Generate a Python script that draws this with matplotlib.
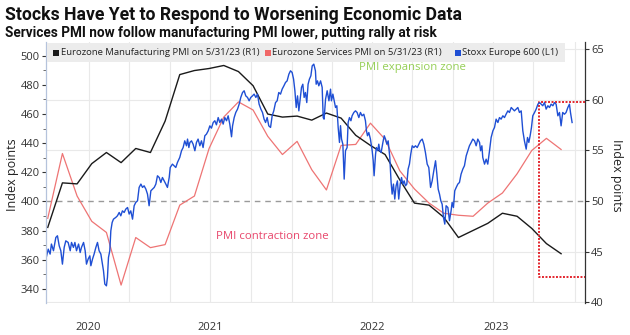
import numpy as np
import matplotlib
matplotlib.use('Agg')
import matplotlib.pyplot as plt
from matplotlib.patches import Rectangle
from matplotlib.ticker import MultipleLocator

# ---------------- data ----------------
months = ['Jun 2020', 'Jul 2020', 'Aug 2020', 'Sep 2020', 'Oct 2020', 'Nov 2020', 'Dec 2020',
          'Jan 2021', 'Feb 2021', 'Mar 2021', 'Apr 2021', 'May 2021', 'Jun 2021', 'Jul 2021',
          'Aug 2021', 'Sep 2021', 'Oct 2021', 'Nov 2021', 'Dec 2021', 'Jan 2022', 'Feb 2022',
          'Mar 2022', 'Apr 2022', 'May 2022', 'Jun 2022', 'Jul 2022', 'Aug 2022', 'Sep 2022',
          'Oct 2022', 'Nov 2022', 'Dec 2022', 'Jan 2023', 'Feb 2023', 'Mar 2023', 'Apr 2023',
          'May 2023']
mfg_pmi = [47.4, 51.8, 51.7, 53.7, 54.8, 53.8, 55.2, 54.8, 57.9, 62.5, 62.9, 63.1, 63.4, 62.8,
           61.4, 58.6, 58.3, 58.4, 58.0, 58.7, 58.2, 56.5, 55.5, 54.6, 52.1, 49.8, 49.6, 48.4,
           46.4, 47.1, 47.8, 48.8, 48.5, 47.3, 45.8, 44.8]
services_pmi = [48.3, 54.7, 50.5, 48.0, 46.9, 41.7, 46.4, 45.4, 45.7, 49.6, 50.5, 55.2, 58.3, 59.8,
                59.0, 56.4, 54.6, 55.9, 53.1, 51.1, 55.5, 55.6, 57.7, 56.1, 53.0, 51.2, 49.8, 48.8,
                48.6, 48.5, 49.8, 50.8, 52.7, 55.0, 56.2, 55.1]

# Stoxx Europe 600: time in months after end of Jun 2020, value in index points
stoxx_t = [-0.13, 0.03, 0.16, 0.25, 0.39, 0.55, 0.66, 0.78, 0.89, 1.00, 1.12, 1.23, 1.39, 1.53,
           1.62, 1.75, 1.85, 1.96, 2.10, 2.21, 2.30, 2.44, 2.55, 2.64, 2.75, 2.87, 2.94, 3.05,
           3.16, 3.28, 3.39, 3.50, 3.62, 3.73, 3.80, 3.89, 4.00, 4.07, 4.14, 4.23, 4.30, 4.39,
           4.48, 4.64, 4.75, 4.87, 4.98, 5.09, 5.21, 5.32, 5.44, 5.55, 5.66, 5.78, 5.89, 6.00,
           6.12, 6.23, 6.35, 6.46, 6.57, 6.69, 6.80, 6.91, 7.03, 7.14, 7.26, 7.37, 7.48, 7.60,
           7.71, 7.82, 7.94, 8.05, 8.16, 8.28, 8.35, 8.50, 8.62, 8.73, 8.84,
           9.00, 9.12, 9.23, 9.34, 9.46, 9.53, 9.62, 9.69, 9.80, 9.91, 10.03, 10.14, 10.25, 10.37,
           10.48, 10.59, 10.71, 10.82, 10.94, 11.05, 11.16, 11.28, 11.39, 11.50, 11.62, 11.73,
           11.85, 11.96, 12.07, 12.19, 12.30, 12.41, 12.53, 12.60, 12.71, 12.82, 12.94, 13.05,
           13.16, 13.28, 13.39, 13.50, 13.62, 13.73, 13.84, 13.96, 14.07, 14.19, 14.30, 14.41,
           14.53, 14.64, 14.75, 14.85, 14.96, 15.07, 15.19, 15.30, 15.41, 15.53, 15.64, 15.75,
           15.87, 15.98, 16.10, 16.21, 16.32, 16.44, 16.55, 16.66, 16.76, 16.85, 16.94, 17.03,
           17.12, 17.21, 17.30, 17.39, 17.48, 17.57, 17.66, 17.75, 17.84, 17.94,
           18.03, 18.14, 18.25, 18.30, 18.39, 18.48, 18.60, 18.71, 18.78, 18.84, 18.94, 19.05,
           19.17, 19.28, 19.34, 19.44, 19.53, 19.62, 19.71, 19.80, 19.89, 19.96, 20.03, 20.12,
           20.21, 20.30, 20.41, 20.48, 20.57, 20.67, 20.75, 20.87, 20.98, 21.09, 21.21, 21.32,
           21.43, 21.55, 21.66, 21.73, 21.80, 21.89, 22.00, 22.12, 22.19, 22.25, 22.35, 22.41,
           22.50, 22.57, 22.64, 22.73, 22.85, 22.94, 23.03, 23.12, 23.21, 23.32, 23.41, 23.48,
           23.57, 23.66, 23.75, 23.84, 23.93, 24.03, 24.12, 24.21, 24.30, 24.39, 24.48, 24.57,
           24.66, 24.75, 24.85, 24.96, 25.07, 25.19, 25.30, 25.41, 25.53, 25.64, 25.75, 25.87,
           25.98, 26.10, 26.21, 26.32, 26.44, 26.53, 26.62, 26.71, 26.80, 26.89, 26.98, 27.07,
           27.16, 27.28, 27.39, 27.50, 27.57, 27.66, 27.75, 27.85, 27.96, 28.07, 28.18, 28.30,
           28.41, 28.53, 28.64, 28.75, 28.87, 28.98, 29.10, 29.21, 29.32, 29.44, 29.51, 29.60,
           29.66, 29.78, 29.89, 30.00, 30.12, 30.23, 30.35, 30.46, 30.57, 30.69, 30.80, 30.91,
           31.03, 31.14, 31.25, 31.37, 31.48, 31.60, 31.71, 31.82, 31.94, 32.05, 32.16, 32.28,
           32.39, 32.50, 32.62, 32.71, 32.80, 32.89, 32.98, 33.07, 33.19, 33.30, 33.42, 33.53,
           33.64, 33.75, 33.87, 33.98, 34.10, 34.21, 34.32, 34.44, 34.55, 34.66, 34.78, 34.89,
           35.00, 35.11, 35.23, 35.34, 35.46, 35.57, 35.64, 35.75]
stoxx_v = [360.3, 367.2, 363.8, 370.7, 366.1, 375.2, 376.4, 369.5, 366.1, 356.9, 368.4, 372.9,
           371.8, 366.1, 371.8, 368.4, 371.8, 366.1, 370.7, 364.9, 368.4, 371.8, 366.1, 356.9,
           360.3, 362.6, 355.8, 360.3, 363.8, 368.4, 371.8, 366.1, 363.8, 356.9, 352.3, 343.2,
           342.0, 347.8, 361.5, 366.1, 379.8, 385.5, 387.8, 389.0, 390.1, 392.4, 390.1, 393.5,
           392.4, 394.7, 395.8, 391.3, 393.5, 387.8, 397.0, 399.3, 400.4, 409.6, 411.9, 409.6,
           410.7, 408.4, 405.0, 397.0, 407.3, 408.4, 409.6, 411.9, 417.6, 416.4, 413.0, 416.4,
           414.1, 411.9, 409.6, 416.4, 423.3, 425.6, 424.4, 423.3, 426.7,
           430.2, 434.8, 437.0, 441.6, 438.2, 442.8, 437.0, 440.5, 441.6, 439.3, 434.8, 440.5,
           442.8, 438.2, 441.6, 437.0, 445.1, 446.2, 448.5, 451.9, 450.3, 454.2, 455.4, 452.6,
           457.6, 454.2, 456.5, 453.1, 457.6, 455.4, 458.8, 453.1, 444.4, 451.9, 457.6, 461.1,
           463.4, 466.8, 471.4, 474.8, 476.0, 472.5, 471.4, 469.1, 471.4, 472.5, 473.7, 471.4,
           473.7, 466.8, 463.4, 461.1, 456.5, 454.2, 457.6, 451.9, 450.8, 458.8, 462.2, 467.9,
           469.1, 474.8, 473.7, 477.1, 479.4, 481.7, 482.8, 487.4, 489.7, 488.6, 484.0, 476.0,
           464.5, 472.5, 462.2, 470.2, 478.3, 480.5, 471.4, 474.8, 467.9, 480.5, 484.0, 486.3,
           493.1, 494.3, 489.7, 480.5, 482.8, 479.4, 482.8, 478.3, 457.6, 456.5, 470.2, 476.0,
           469.1, 477.1, 469.1, 473.7, 469.1, 464.5, 465.7, 450.8, 440.5, 452.0, 442.8, 439.3,
           415.3, 434.8, 437.0, 454.2, 457.6, 455.4, 458.8, 461.1, 462.2, 461.1, 457.6, 461.1,
           458.8, 459.9, 455.4, 448.5, 445.1, 447.3, 442.8, 434.8, 427.9, 417.6, 432.5, 437.0,
           434.8, 439.3, 434.8, 433.6, 440.5, 445.1, 442.8, 439.3, 441.6, 430.2, 413.0, 405.0,
           411.9, 401.6, 410.7, 414.1, 401.6, 411.9, 416.4, 411.9, 414.1, 410.7, 411.9, 422.2,
           425.6, 432.5, 438.2, 437.0, 438.2, 437.0, 439.3, 441.6, 442.8, 439.3, 433.6, 425.6,
           423.3, 409.6, 414.1, 421.0, 427.9, 418.7, 408.4, 405.0, 400.4, 398.1, 389.0, 384.4,
           397.0, 395.8, 386.7, 393.5, 399.3, 395.8, 407.3, 409.6, 411.9, 413.0, 418.7, 422.2,
           424.5, 431.3, 434.8, 438.2, 440.5, 442.8, 441.6, 438.2, 442.8, 440.5, 434.8, 438.2,
           430.2, 425.6, 429.0, 425.6, 434.8, 443.9, 448.5, 450.8, 456.5, 454.2, 457.6, 456.5,
           458.8, 457.6, 459.9, 462.2, 461.1, 464.5, 463.4, 462.2, 463.4, 464.5, 461.1, 462.2,
           448.5, 441.6, 435.9, 443.9, 440.5, 445.1, 450.8, 458.8, 461.1, 463.4, 466.8, 467.9,
           466.8, 465.7, 467.9, 463.4, 465.7, 464.5, 466.8, 465.7, 467.9, 466.8, 458.8, 461.1,
           451.9, 461.1, 459.9, 461.1, 464.5, 466.8, 461.1, 454.2]

year_ticks = [2.75, 11.07, 22.1, 30.55]
year_labels = ['2020', '2021', '2022', '2023']
grid_x = [2.82, 5.57, 8.32, 11.07, 13.85, 16.63, 19.38, 22.11, 24.84, 27.6, 30.36, 33.09, 35.95]
pmi_ticks = [40, 45, 50, 55, 60, 65]
stoxx_ticks = [340, 360, 380, 400, 420, 440, 460, 480, 500]
pmi_neutral = 50
highlight_start = 33.46
highlight_top = 59.75
highlight_bottom = 42.49

legend_labels = ['Eurozone Manufacturing PMI on 5/31/23 (R1)',
                 'Eurozone Services PMI on 5/31/23 (R1)',
                 'Stoxx Europe 600 (L1)']

# ---------------- style ----------------
C_MFG = '#1a1a1a'
C_SRV = '#ee7474'
C_STX = '#1f4fd4'
C_HL = '#e3262e'
TXT = ['Open Sans', 'DejaVu Sans']
TITLE_FONT = ['Roboto', 'DejaVu Sans']

W, H = 630, 335
fig = plt.figure(figsize=(6.3, 3.35), dpi=100)
fig.patch.set_facecolor('white')


def fx(px):
    return px / W


def fy(py):
    return 1 - py / H


ax = fig.add_axes([fx(46), fy(303), fx(585) - fx(46), fy(42) - fy(303)])
ax2 = ax.twinx()

ax.set_xlim(-0.12, 36.63)
ax.set_ylim(39.93, 65.72)

# grid
for gx in grid_x:
    ax.axvline(gx, color='#e9e9e9', lw=0.8, zorder=0)
for t in pmi_ticks:
    if t != pmi_neutral:
        ax.axhline(t, color='#e9e9e9', lw=0.8, zorder=0)
ax.axhline(pmi_neutral, color='#9a9a9a', lw=1.0, ls=(0, (4, 3.5)), zorder=1)

x_pmi = np.arange(len(months))
ax.plot(x_pmi, services_pmi, color=C_SRV, lw=0.9, zorder=3)
ax.plot(x_pmi, mfg_pmi, color=C_MFG, lw=1.0, zorder=3)

# highlight box
xr = ax.get_xlim()[1]
ax.plot([xr, highlight_start, highlight_start, xr],
        [highlight_top, highlight_top, highlight_bottom, highlight_bottom],
        color=C_HL, lw=1.4, ls=(0, (1, 0.8)), zorder=4, clip_on=False)

ax.text(24.84, 63.2, 'PMI expansion zone', color='#95cf55', fontsize=8.2,
        ha='center', va='center', family=TXT)
ax.text(15.33, 46.54, 'PMI contraction zone', color='#e8476c', fontsize=8.2,
        ha='center', va='center', family=TXT)

for s in ['top', 'left', 'bottom', 'right']:
    ax.spines[s].set_visible(False)
ax.set_xticks(year_ticks)
ax.set_xticklabels(year_labels)
ax.tick_params(axis='x', length=0, pad=14, labelsize=8, labelcolor='#333333')
ax.set_yticks([])

# ---- stoxx series (left scale) ----
ax2.set_ylim(330.2, 509.5)
ax2.plot(stoxx_t, stoxx_v, color=C_STX, lw=1.0, zorder=3)
for s in ['top', 'right', 'bottom', 'left']:
    ax2.spines[s].set_visible(False)
ax2.set_yticks([])

# right (PMI) axis
axr = ax.twinx()
axr.set_ylim(ax.get_ylim())
axr.patch.set_visible(False)
for s in ['top', 'left', 'bottom']:
    axr.spines[s].set_visible(False)
axr.spines['right'].set_color('#333333')
axr.spines['right'].set_linewidth(0.9)
axr.yaxis.tick_right()
axr.set_yticks(pmi_ticks)
axr.tick_params(axis='y', direction='out', length=3, width=0.8, color='#333333',
                pad=1.5, labelsize=8, labelcolor='#333333')

# left (Stoxx) axis
axl = ax.twinx()
axl.set_ylim(ax2.get_ylim())
axl.patch.set_visible(False)
axl.yaxis.tick_left()
axl.set_yticks(stoxx_ticks)
axl.yaxis.set_minor_locator(MultipleLocator(10))
for s in ['top', 'right', 'bottom']:
    axl.spines[s].set_visible(False)
axl.spines['left'].set_visible(True)
axl.spines['left'].set_color('#b5c3dc')
axl.spines['left'].set_linewidth(0.9)
axl.tick_params(axis='y', which='major', direction='out', length=3, width=0.8,
                color='#333333', pad=1.5, labelsize=8, labelcolor='#333333',
                left=True, right=False, labelleft=True, labelright=False)
axl.tick_params(axis='y', which='minor', direction='out', length=2, width=0.6,
                color='#555555', left=True, right=False)

for a in (ax, axr, axl):
    for lab in a.get_xticklabels() + a.get_yticklabels():
        lab.set_family(TXT)

# axis titles
fig.text(fx(13), fy(175), 'Index points', rotation=90, ha='center', va='center',
         fontsize=9, color='#222222', family=TXT)
fig.text(fx(617), fy(175), 'Index points', rotation=270, ha='center', va='center',
         fontsize=9, color='#222222', family=TXT)

# legend
fig.patches.append(Rectangle((fx(46.5), fy(62)), fx(565) - fx(46.5), fy(43) - fy(62),
                             transform=fig.transFigure, facecolor='#ececec',
                             edgecolor='none', zorder=5))
leg_sq_x = [53, 265, 455]
leg_colors = [C_MFG, '#f06767', '#1f4fd4']
for sx, c, lab in zip(leg_sq_x, leg_colors, legend_labels):
    fig.patches.append(Rectangle((fx(sx), fy(55.5)), fx(5.5), fy(50) - fy(55.5),
                                 transform=fig.transFigure, facecolor=c,
                                 edgecolor='none', zorder=6))
    fig.text(fx(sx + 7.5), fy(52.8), lab, ha='left', va='center', fontsize=6.8,
             color='#222222', family=TXT, zorder=6)

# titles
fig.text(fx(5), fy(20), 'Stocks Have Yet to Respond to Worsening Economic Data',
         ha='left', va='baseline', fontsize=12.7, fontweight='bold', color='#111111',
         family=TITLE_FONT)
fig.text(fx(5), fy(36.5), 'Services PMI now follow manufacturing PMI lower, putting rally at risk',
         ha='left', va='baseline', fontsize=9.8, fontweight='bold', color='#111111',
         family=TITLE_FONT)

fig.savefig('out.png', dpi=100)
